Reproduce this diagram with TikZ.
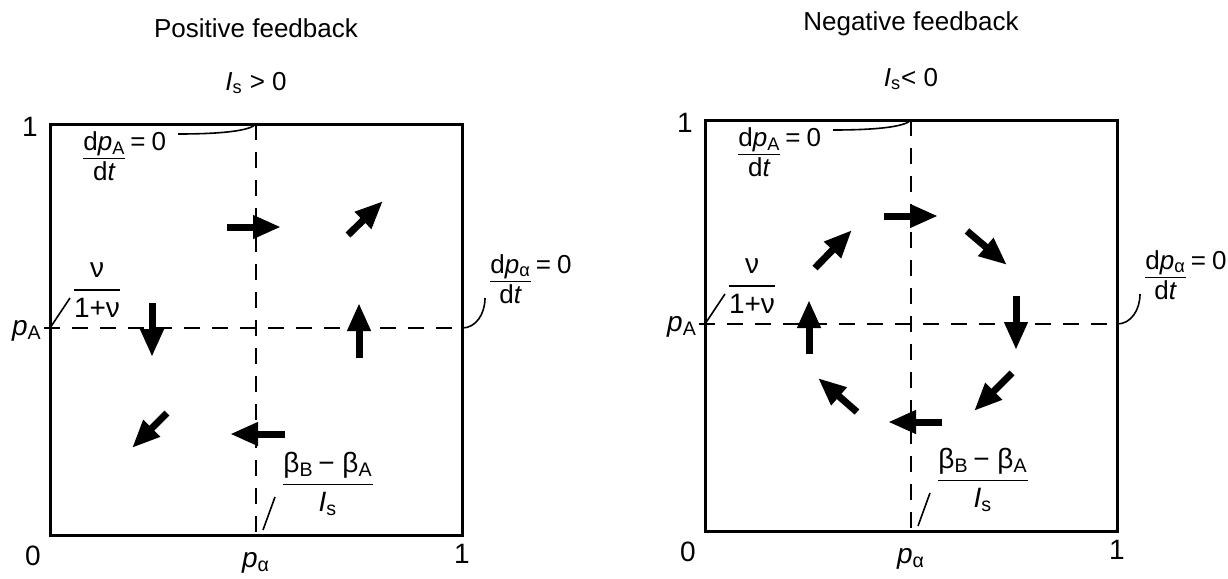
\documentclass[tikz,border=0pt]{standalone}
\usepackage{amsmath}
\usepackage{fontspec}
\setmainfont{Liberation Sans}
\usetikzlibrary{arrows.meta}
\newcommand{\dpdt}[1]{\begin{tabular}[t]{@{}c@{}l@{}}
  d\textit{p}\textsubscript{#1} & \hspace{2.5pt}=\hspace{3pt}0\\[-1pt] \cline{1-1}
  \rule{0pt}{11pt}d\textit{t} & \end{tabular}}
\tikzset{
  lbl/.style={font=\fontsize{14}{17}\selectfont, inner sep=1pt},
  eqlbl/.style={font=\fontsize{13}{16}\selectfont, inner sep=1pt, anchor=base west},
  ttl/.style={font=\fontsize{13}{15}\selectfont},
  frame/.style={line width=1.5pt},
  nullcline/.style={line width=0.8pt, dash pattern=on 8pt off 6pt},
  leader/.style={line width=0.8pt},
  flow/.style={line width=3.5pt, -{Triangle[length=14pt,width=11pt]}}
}

\begin{document}
\begin{tikzpicture}[x=0.5pt, y=-0.5pt]
  \path[use as bounding box] (0,0) rectangle (1228,579);
  \foreach \n/\ox/\oy/\ttl/\rel in {L/0/0/Positive feedback/{~> 0}, R/655/-4/Negative feedback/{< 0}} {
    \begin{scope}[shift={(\ox,\oy)}]
      \node[ttl] (title\n) at (256,28) {\ttl};
      \node[ttl] (sign\n) at (256,83) {\textit{I}\textsubscript{s}\rel};
      \draw[frame] (50,124) rectangle (462,535);
      \draw[nullcline] (256,124) -- (256,535);
      \draw[nullcline] (44,328) -- (462,328);
      \node[lbl] (one\n) at (30,127) {1};
      \node[lbl] (zero\n) at (33,556) {0};
      \node[lbl] (pal\n) at (256,563) {\textit{p}\textsubscript{α}};
      \node[lbl] (oneX\n) at (462,554) {1};
      \node[lbl] (pA\n) at (27,331) {\textit{p}\textsubscript{A}};
      \node[lbl] (nu\n) at (97,290) {$\dfrac{\text{ν}}{\text{1+ν}}$};
      \node[eqlbl] (dpA\n) at (81,150) {\dpdt{A}};
      \node[eqlbl] (dpa\n) at (488,273) {\dpdt{α}};
      \node[lbl] (beta\n) at (328,484)
        {$\dfrac{\text{β\textsubscript{B}\,− β\textsubscript{A}}}{\text{\textit{I}\textsubscript{s}}}$};
      \coordinate (jA\n) at (256,124);
      \coordinate (eA\n) at (178,134);
      \coordinate (jB\n) at (462,328);
      \coordinate (eB\n) at (485,298);
      \coordinate (jC\n) at (50,328);
      \coordinate (eC\n) at (70,298);
      \coordinate (jD\n) at (263,530);
      \coordinate (eD\n) at (275,497);
      \draw[leader] (eA\n) .. controls (220,134) and (250,131) .. (jA\n);
      \draw[leader] (jB\n) .. controls (476,328) and (485,314) .. (eB\n);
      \draw[leader] (jC\n) -- (eC\n);
      \draw[leader] (jD\n) -- (eD\n);
    \end{scope}
  }
  \foreach \xa/\ya/\xb/\yb in {227/227/281/227, 348/235/383/201, 152/303/152/357,
      359/358/359/303, 167/413/132/448, 285/434/230/434,
      884/216/938/216, 967/231/1007/265, 1016/296/1016/350, 1012/373/974/411,
      942/422/888/422, 857/412/818/378, 809/354/809/300, 815/268/852/230}
    \draw[flow] (\xa,\ya) -- (\xb,\yb);
\end{tikzpicture}
\end{document}
